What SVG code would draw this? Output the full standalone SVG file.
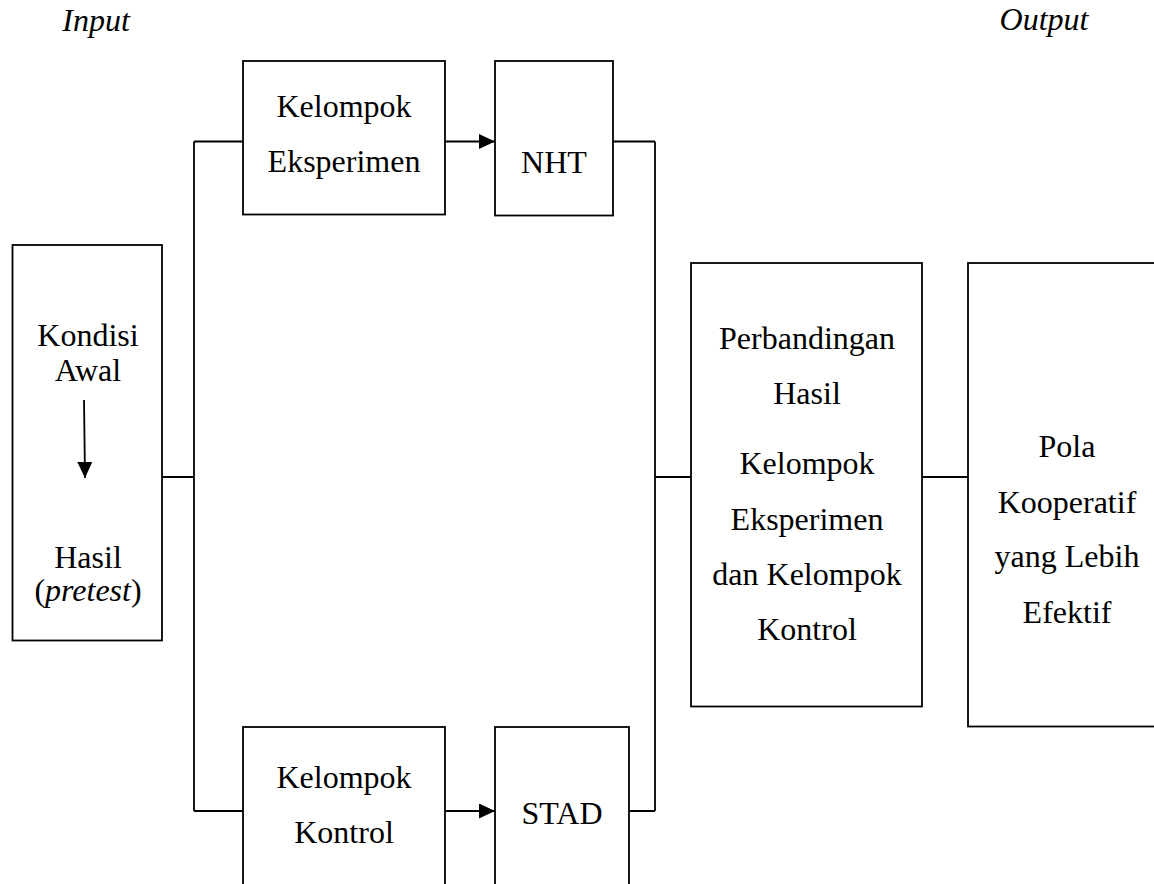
<svg xmlns="http://www.w3.org/2000/svg" width="1154" height="884" viewBox="0 0 1154 884">
<style>
  .box { fill: #fff; stroke: #000; stroke-width: 1.8; }
  .ln { fill: none; stroke: #000; stroke-width: 1.8; }
  text { font-family: "Liberation Serif", "Times New Roman", serif; font-size: 32px; fill: #000; text-anchor: middle; }
  .it { font-style: italic; }
</style>
<defs>
  <marker id="ahl" viewBox="0 0 10 10" refX="10" refY="5" markerWidth="16" markerHeight="15" markerUnits="userSpaceOnUse" orient="auto" preserveAspectRatio="none">
    <path d="M0,0 L10,5 L0,10 Z" fill="#000"/>
  </marker>
</defs>
<rect width="1154" height="884" fill="#fff"/>
<text class="it" x="96" y="31">Input</text>
<text class="it" x="1044" y="30">Output</text>

<g id="connectors">
  <path class="ln" d="M162,477 H194 M194,141.5 V811 M194,141.5 H243 M194,811 H243"/>
  <path class="ln" d="M613,141.5 H655 M629,811 H655 M655,141.5 V811 M655,477 H691"/>
  <path class="ln" d="M922,477 H968"/>
  <line class="ln" x1="445" y1="141.5" x2="495" y2="141.5" marker-end="url(#ahl)"/>
  <line class="ln" x1="445" y1="811" x2="495" y2="811" marker-end="url(#ahl)"/>
</g>

<g id="kondisi-awal">
  <rect class="box" x="12.5" y="245" width="149.5" height="395.5"/>
  <text x="88" y="346">Kondisi</text>
  <text x="88" y="381">Awal</text>
  <line class="ln" x1="84" y1="400" x2="85" y2="478" marker-end="url(#ahl)"/>
  <text x="88" y="568">Hasil</text>
  <text x="88" y="601">(<tspan class="it">pretest</tspan>)</text>
</g>

<g id="kelompok-eksperimen">
  <rect class="box" x="243" y="61" width="202" height="153.5"/>
  <text x="344" y="117">Kelompok</text>
  <text x="344" y="172">Eksperimen</text>
</g>

<g id="nht">
  <rect class="box" x="495" y="61" width="118" height="154.5"/>
  <text x="554" y="173">NHT</text>
</g>

<g id="kelompok-kontrol">
  <rect class="box" x="243" y="727" width="202" height="170"/>
  <text x="344" y="788">Kelompok</text>
  <text x="344" y="843">Kontrol</text>
</g>

<g id="stad">
  <rect class="box" x="495" y="727" width="134" height="170"/>
  <text x="562" y="824">STAD</text>
</g>

<g id="perbandingan">
  <rect class="box" x="691" y="263" width="231" height="443.5"/>
  <text x="807" y="349">Perbandingan</text>
  <text x="807" y="404">Hasil</text>
  <text x="807" y="474">Kelompok</text>
  <text x="807" y="530">Eksperimen</text>
  <text x="807" y="585">dan Kelompok</text>
  <text x="807" y="640">Kontrol</text>
</g>

<g id="pola">
  <rect class="box" x="968" y="263" width="200" height="463.5"/>
  <text x="1067" y="457">Pola</text>
  <text x="1067" y="513">Kooperatif</text>
  <text x="1067" y="567">yang Lebih</text>
  <text x="1067" y="623">Efektif</text>
</g>
</svg>
